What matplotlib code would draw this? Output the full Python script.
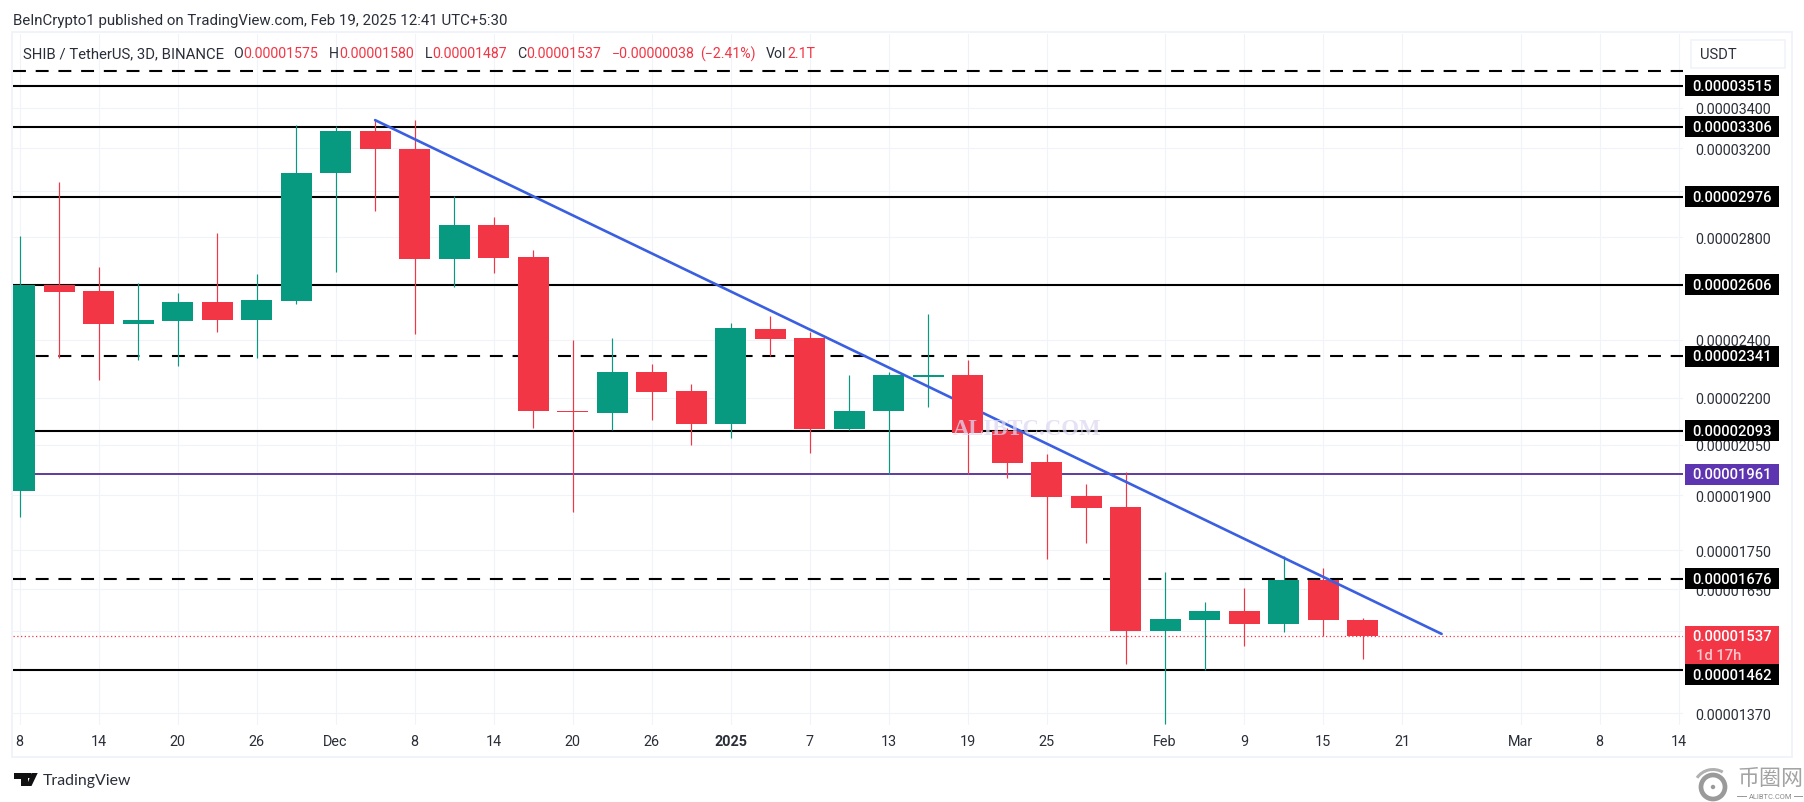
import numpy as np
import matplotlib
matplotlib.use("Agg")
import matplotlib.pyplot as plt
from matplotlib.patches import Rectangle, Circle, Polygon, FancyBboxPatch, Wedge
from matplotlib.ticker import NullLocator

W, H = 1804, 803

# prices are in units of 0.00000001
opens = [1913, 2606, 2582, 2459, 2469, 2540, 2473, 2545, 3081, 3286, 3194, 2711, 2852, 2718, 2157,
         2151, 2285, 2221, 2116, 2439, 2406, 2099, 2155, 2271, 2278, 2093, 1997, 1897, 1866, 1550,
         1576, 1598, 1567, 1674, 1575]
highs = [2805, 3042, 2679, 2613, 2575, 2816, 2649, 3315, 3308, 3338, 3341, 2980, 2885, 2747, 2399,
         2406, 2313, 2247, 2463, 2489, 2428, 2275, 2287, 2493, 2327, 2102, 2021, 1932, 1968, 1694,
         1618, 1653, 1735, 1704, 1580]
lows = [1839, 2336, 2261, 2328, 2307, 2428, 2336, 2531, 2658, 2911, 2420, 2599, 2653, 2102, 1853,
        2096, 2128, 2049, 2071, 2341, 2025, 2097, 1961, 2171, 1961, 1950, 1727, 1770, 1474, 1348,
        1462, 1515, 1548, 1538, 1487]
closes = [2606, 2580, 2459, 2473, 2540, 2473, 2548, 3085, 3286, 3194, 2711, 2852, 2715, 2155, 2153,
          2285, 2219, 2116, 2443, 2402, 2099, 2157, 2275, 2278, 2088, 1995, 1895, 1864, 1550, 1578,
          1598, 1567, 1674, 1575, 1537]

solid_levels = [3515, 3306, 2976, 2606, 2093, 1462]
dashed_levels = [3595, 2341, 1676]
purple_level = 1961
last_price = 1537

trend_x = [9.0, 36.0]
trend_y = [3338, 1543]

tick_idx = [0, 2, 4, 6, 8, 10, 12, 14, 16, 18, 20, 22, 24, 26, 29, 31, 33, 35, 38, 40, 42]
tick_names = ["8", "14", "20", "26", "Dec", "8", "14", "20", "26", "2025", "7", "13", "19", "25",
              "Feb", "9", "15", "21", "Mar", "8", "14"]
price_ticks = [3400, 3200, 3000, 2800, 2400, 2200, 2050, 1900, 1750, 1650, 1550, 1370]
black_tags = [3515, 3306, 2976, 2606, 2341, 2093, 1676]

GREEN = "#089981"
RED = "#f23645"
BLACK = "#000000"
PURPLE = "#5e35b1"
BLUE = "#3a5fe0"
GRID = "#f0f3fa"
TEXT = "#2a2e39"

plt.rcParams["font.family"] = ["Roboto", "DejaVu Sans"]


def fmt(v):
    return "{:.8f}".format(v / 1e8)


fig = plt.figure(figsize=(W / 100, H / 100), dpi=100, facecolor="white")
left, right, top, bottom = 13.4, 1683, 34.7, 725.7
ax = fig.add_axes([left / W, 1 - bottom / H, (right - left) / W, (bottom - top) / H])
ax.set_yscale("log")
ax.set_ylim(1346.3, 3800.6)
ax.set_xlim((left - 19.6) / 39.5, (right - 19.6) / 39.5)
for s in ax.spines.values():
    s.set_visible(False)

ax.set_axisbelow(True)
ax.grid(True, color=GRID, lw=0.8)
ax.set_xticks(tick_idx)
ax.set_xticklabels(tick_names, fontsize=10.4, color=TEXT)
ax.get_xticklabels()[9].set_fontweight("bold")
ax.yaxis.tick_right()
ax.set_yticks(price_ticks)
ax.set_yticklabels([fmt(v) for v in price_ticks], fontsize=10.4, color=TEXT)
ax.yaxis.set_minor_locator(NullLocator())
ax.tick_params(axis="both", which="both", length=0)
ax.tick_params(axis="x", pad=7)
ax.tick_params(axis="y", pad=8.5)

# levels sit under the candles
for v in solid_levels:
    ax.axhline(v, color=BLACK, lw=1.5, zorder=2)
for v in dashed_levels:
    ax.axhline(v, color=BLACK, lw=1.5, ls=(0, (6.2, 4.7)), zorder=2)
ax.axhline(purple_level, color="#5f3a9e", lw=1.4, zorder=2)
ax.axhline(last_price, color=RED, lw=0.9, ls=(0, (1, 2)), zorder=2)

bar_x = np.arange(len(opens))
colors = [GREEN if c >= o else RED for o, c in zip(opens, closes)]
body_lo = np.minimum(opens, closes)
body_hi = np.maximum(opens, closes)
ax.vlines(bar_x, lows, highs, colors=colors, lw=0.85, zorder=3)
bars = ax.bar(bar_x, body_hi - body_lo, bottom=body_lo, width=0.785, color=colors, lw=0, zorder=3)

ax.plot(trend_x, trend_y, color=BLUE, lw=1.9, zorder=4, solid_capstyle="round")
# the trend line passes behind this one candle
bars[24].set_zorder(5)

fig.text(1027.5 / W, 1 - 430 / H, "ALIBTC.COM", family=["Liberation Serif"], fontweight="bold",
         fontsize=16.4, color="#ded8f2", alpha=0.75, ha="center", va="center", zorder=6)


def label(x, y, s, **kw):
    kw.setdefault("fontsize", 10.2)
    kw.setdefault("color", TEXT)
    kw.setdefault("va", "center")
    fig.text(x / W, 1 - y / H, s, **kw)


def box(x, y, w, h, color, z=5):
    fig.add_artist(Rectangle((x / W, 1 - (y + h) / H), w / W, h / H, transform=fig.transFigure,
                             facecolor=color, edgecolor="none", zorder=z))


def price_y(v):
    return H - ax.transData.transform((0, v))[1]


# outer frame
box(12, 32, 1780, 2, GRID, z=1)
box(12, 757, 1780, 2, GRID, z=1)
box(11, 32, 2, 727, GRID, z=1)
box(1791, 32, 2, 727, GRID, z=1)

# header texts
label(13, 21, "BeInCrypto1 published on TradingView.com, Feb 19, 2025 12:41 UTC+5:30", fontsize=10.85)
label(23, 54, "SHIB / TetherUS, 3D, BINANCE", fontsize=10.75)
legend_parts = [(233.5, "O", TEXT), (243, "0.00001575", RED), (329, "H", TEXT), (339, "0.00001580", RED),
                (424.5, "L", TEXT), (432, "0.00001487", RED), (517, "C", TEXT), (526, "0.00001537", RED),
                (611.6, "\u22120.00000038", RED), (700, "(\u22122.41%)", RED), (766, "Vol", TEXT), (787, "2.1T", RED)]
for x, s, c in legend_parts:
    label(x, 54, s, color=c)

# USDT button
fig.add_artist(FancyBboxPatch((1691 / W, 1 - 69 / H), 94 / W, 28 / H, boxstyle="round,pad=0", transform=fig.transFigure,
                              facecolor="white", edgecolor=GRID, lw=1.2, zorder=5))
label(1700, 55, "USDT", fontsize=10.6, zorder=6)

# price tags
for v in black_tags:
    y = price_y(v)
    box(1685, y - 10.5, 94, 21, BLACK, z=7)
    label(1732, y, fmt(v), color="white", ha="center", fontsize=10.6, fontweight="medium", zorder=8)
y = price_y(purple_level)
box(1685, y - 10.5, 94, 21, PURPLE, z=7)
label(1732, y, fmt(purple_level), color="white", ha="center", fontsize=10.6, fontweight="medium", zorder=8)
y = price_y(last_price)
box(1685, y - 10, 94, 39, RED, z=7)
label(1732, y, fmt(last_price), color="white", ha="center", fontsize=10.6, fontweight="medium", zorder=8)
label(1696, y + 18.5, "1d 17h", color="#fbc8cd", fontsize=10.6, fontweight="medium", zorder=8)
y = price_y(1462)
box(1685, y - 5.5, 94, 21, BLACK, z=9)
label(1732, y + 5, fmt(1462), color="white", ha="center", fontsize=10.6, fontweight="medium", zorder=10)

# TradingView mark
to_fig = lambda pts: [(x / W, 1 - y / H) for x, y in pts]
fig.add_artist(Polygon(to_fig([(13.5, 774), (27.5, 774), (27.5, 787), (20.5, 787), (20.5, 780), (13.5, 780)]),
                       transform=fig.transFigure, facecolor="#111111", edgecolor="none"))
fig.add_artist(Polygon(to_fig([(31.5, 787), (37.7, 774), (31.5, 774), (26.5, 787)]), transform=fig.transFigure,
                       facecolor="#111111", edgecolor="none"))
fig.add_artist(Polygon(to_fig([(27.5, 774), (31, 774), (31, 779), (27.5, 779)]), transform=fig.transFigure,
                       facecolor="#111111", edgecolor="none"))
label(43, 781.5, "TradingView", family=["Lato"], fontsize=11.4, color="#2a2e39")

# site logo lower right
logo_ax = fig.add_axes([0, 0, 1, 1], facecolor="none", zorder=11)
logo_ax.set_xlim(0, W)
logo_ax.set_ylim(H, 0)
logo_ax.axis("off")
logo_ax.add_patch(Circle((1713, 788), 12, facecolor="none", edgecolor="#9a9a9a", lw=3.4))
logo_ax.add_patch(Circle((1713, 788), 2.2, facecolor="#9a9a9a", edgecolor="none"))
logo_ax.add_patch(Wedge((1713, 790), 21, 215, 300, width=3, facecolor="#b0b0b0", edgecolor="none"))
label(1737, 779, "\u5e01\u5708\u7f51", family=["Noto Sans CJK SC"], fontsize=15.8, color="#a3a3a3", zorder=12)
label(1749, 797.5, "ALIBTC.COM", fontsize=5.4, color="#8a8a8a", zorder=12)
box(1737, 797, 10, 1, "#9a9a9a", z=12)
box(1794, 797, 9, 1, "#9a9a9a", z=12)

fig.savefig("out.png", dpi=100, facecolor="white")
